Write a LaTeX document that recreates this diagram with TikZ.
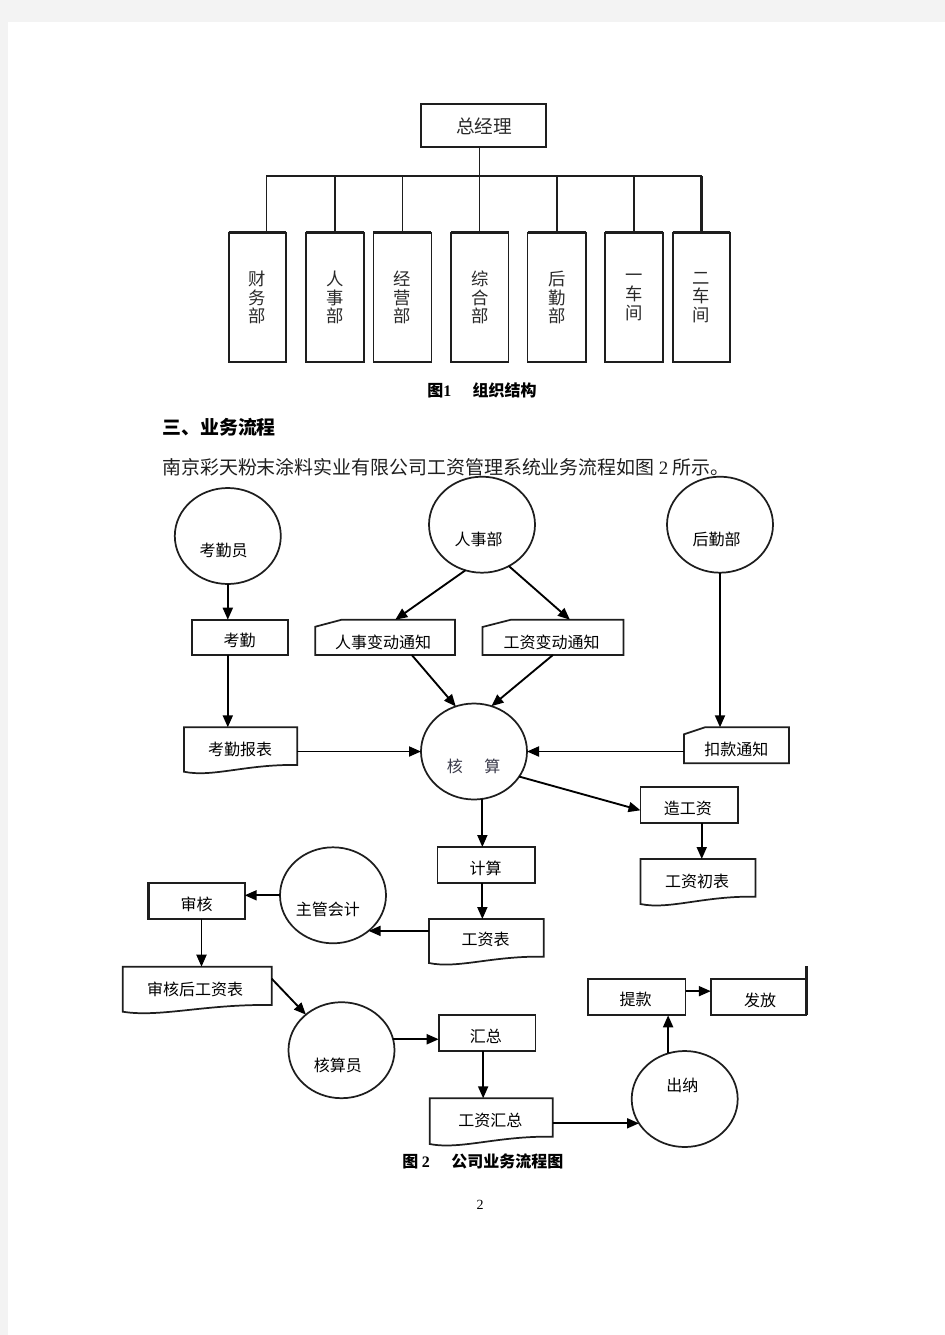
\documentclass[tikz,border=0pt]{standalone}
\usepackage{fontspec}
\newfontfamily\cjk{Noto Sans CJK SC}
\newfontfamily\lser{Liberation Serif}
\usetikzlibrary{arrows.meta,shapes.geometric,calc}
\definecolor{pagegray}{HTML}{F3F3F3}
\definecolor{ink}{HTML}{1E1E1E}
\definecolor{orgtext}{HTML}{2A2A2A}
\definecolor{hstext}{HTML}{3A3A4A}
\newcommand\mkbox[6][]{\node[#1,inner sep=0pt,outer sep=0pt,minimum width={(#5-#3)*0.75pt},minimum height={(#6-#4)*0.75pt}] (#2) at ({(#3+#5)/2},{(#4+#6)/2}) {};}
\newcommand\mkdoc[6]{\mkbox{#1}{#2}{#3}{#4}{#5}
 \draw[boxline] (#2,{#5+#6}) -- (#2,#3) -- (#4,#3) -- (#4,#5) .. controls ({#4-0.45*(#4-#2)},{#5-1}) and ({#2+0.25*(#4-#2)},{#5+#6+6}) .. (#2,{#5+#6}) -- cycle;}
\newcommand\mkcard[7]{\mkbox{#1}{#2}{#3}{#4}{#5}
 \draw[boxline] (#2,{#3+#7}) -- ({#2+#6},#3) -- (#4,#3) -- (#4,#5) -- (#2,#5) -- cycle;}
\begin{document}
\begin{tikzpicture}[x=0.75pt,y=-0.75pt,font=\cjk,
  boxline/.style={draw=ink,line width=1.3pt},
  orgline/.style={draw=ink,line width=1.15pt},
  arr/.style={draw=black,line width=1.4pt,-{Triangle[length=9pt,width=7.5pt]}},
  ell/.style={ellipse,draw=ink,line width=1.3pt,minimum width=106*0.75pt,minimum height=96*0.75pt,inner sep=0pt,outer sep=0pt},
  ftxt/.style={font=\cjk\fontsize{12pt}{14pt}\selectfont,text=black,inner sep=0pt},
  otxt/.style={font=\cjk\fontsize{13pt}{14.1pt}\selectfont,text=orgtext,inner sep=0pt,align=center},
  captxt/.style={font=\cjk\bfseries\fontsize{12pt}{14pt}\selectfont,text=black,inner sep=0pt,anchor=west}]
\useasboundingbox (0,0) rectangle (945,1335);
\fill[pagegray] (0,0) rectangle (945,1335);
\fill[white] (8,22) rectangle (945,1335);

% ---------- Figure 1: org chart ----------
\mkbox[boxline]{zjl}{421}{104}{546}{147}
\draw[draw=ink,line width=1.8pt] (zjl.north east) -- (zjl.south east) -- (zjl.south west);
\node[otxt,font=\cjk\fontsize{14pt}{16pt}\selectfont] (zjl-t) at (484,126) {总经理};

\mkbox[boxline]{cwb}{228.7}{232.7}{286.3}{361.7}
\mkbox[boxline]{orsb}{305.8}{232.7}{363.8}{361.7}
\mkbox[boxline]{jyb}{373.4}{232.7}{431.4}{361.7}
\mkbox[boxline]{zhb}{450.9}{232.7}{508.5}{361.7}
\mkbox[boxline]{ohqb}{527.6}{232.7}{586}{361.7}
\mkbox[boxline]{ycj}{605}{232.7}{662.7}{361.7}
\mkbox[boxline]{ecj}{672.7}{232.7}{730.3}{361.7}
\foreach \n in {cwb,orsb,jyb,zhb,ohqb,ycj,ecj}{\draw[draw=ink,line width=2.3pt] (\n.north west) -- (\n.north east);}

\node[otxt] (cwb-t) at (cwb |- 0,297.5) {财\\务\\部};
\node[otxt] (orsb-t) at (orsb |- 0,297.5) {人\\事\\部};
\node[otxt] (jyb-t) at (jyb |- 0,297.5) {经\\营\\部};
\node[otxt] (zhb-t) at (zhb |- 0,297.5) {综\\合\\部};
\node[otxt] (ohqb-t) at (ohqb |- 0,297.5) {后\\勤\\部};
\node[otxt] (ycj-t) at (ycj |- 0,297.5) {一\\车\\间};
\node[otxt] (ecj-t) at (ecj |- 0,297.5) {二\\车\\间};

\coordinate (bar) at (0,176);
\draw[orgline] (zhb.north) -- (zhb.north |- zjl.south);
\draw[orgline] ($(cwb.north)+(9,0)$) coordinate (cws) -- (cws |- bar) -- (ecj.north |- bar);
\foreach \n in {orsb,jyb,ohqb,ycj}{\draw[orgline] (\n.north) -- (\n.north |- bar);}
\draw[draw=ink,line width=2pt] (ecj.north) -- (ecj.north |- bar);

\node[captxt] (cap1) at (427,390.5) {图{\lser\bfseries 1}\hspace{16pt}组织结构};

% ---------- text ----------
\node[anchor=west,inner sep=0pt,font=\cjk\bfseries\fontsize{14.2pt}{16pt}\selectfont] (sec) at (162,427.5) {三、业务流程};
\node[anchor=west,inner sep=0pt,text=black!88,font=\cjk\fontsize{14.2pt}{16pt}\selectfont] (intro) at (162,467.5) {南京彩天粉末涂料实业有限公司工资管理系统业务流程如图 {\lser 2} 所示。};

% ---------- Figure 2: flow ----------
\node[ell] (kqy) at (227.8,536) {};
\node[ell] (rsb) at (482,524.7) {};
\node[ell] (hqb) at (720,524.7) {};
\node[ell] (hs) at (474,751.5) {};
\node[ell] (zgkj) at (333,895.3) {};
\node[ell] (hsy) at (341.5,1050.2) {};
\node[ell] (cn) at (684.7,1099) {};

\mkbox[boxline]{kq}{192}{619.7}{288.3}{655}
\mkcard{rsbd}{315.3}{619.7}{455}{655}{26.4}{7}
\mkcard{gzbd}{482.4}{619.7}{623.5}{655}{28.6}{7.3}
\mkdoc{kqbb}{184}{727.3}{297.3}{765}{6.7}
\mkcard{kkd}{684}{727.3}{789}{763.3}{21}{7}
\mkbox[boxline]{zgz}{640.5}{787.3}{738}{823.3}
\mkdoc{gzcb}{640.5}{859}{755.5}{896.7}{7.3}
\mkbox[boxline]{js}{437.5}{847}{535.3}{883.3}
\mkdoc{gzb}{429}{919}{543.7}{956.7}{6.3}
\mkbox[boxline]{sh}{148.3}{883.3}{244.7}{918.7}
\draw[draw=ink,line width=2.2pt] (sh.north west) -- (sh.south west);
\mkdoc{shgzb}{122.7}{966.7}{271.7}{1005}{6.7}
\mkbox[boxline]{hz}{438.7}{1015.3}{535.6}{1051}
\mkdoc{gzhz}{429.7}{1098.3}{552.8}{1136.7}{7.3}
\mkbox[boxline]{tk}{588}{979}{685.5}{1015.3}
\mkbox[boxline]{ff}{710.8}{979}{806.5}{1015.3}
\draw[draw=ink,line width=1.8pt] (ff.south east) -- ($(ff.north east)+(0,-13)$);

\node[ftxt] (kqy-t) at (223.7,550) {考勤员};
\node[ftxt] (rsb-t) at (478.5,539) {人事部};
\node[ftxt] (hqb-t) at (716.7,539) {后勤部};
\node[ftxt,text=hstext] (hs-t) at (473.6,766) {核\hspace{16pt}算};
\node[ftxt] (zgkj-t) at (327.8,909.5) {主管会计};
\node[ftxt] (hsy-t) at (337.8,1065) {核算员};
\node[ftxt] (cn-t) at (682.3,1085) {出纳};
\node[ftxt] (kq-t) at (239.7,640.5) {考勤};
\node[ftxt] (rsbd-t) at (383,642) {人事变动通知};
\node[ftxt] (gzbd-t) at (551.6,642) {工资变动通知};
\node[ftxt] (kqbb-t) at (240,749) {考勤报表};
\node[ftxt] (kkd-t) at (736.4,749.7) {扣款通知};
\node[ftxt] (zgz-t) at (687.8,808.3) {造工资};
\node[ftxt] (gzcb-t) at (697,881.3) {工资初表};
\node[ftxt] (js-t) at (485.5,868) {计算};
\node[ftxt] (gzb-t) at (485.7,939.7) {工资表};
\node[ftxt] (sh-t) at (196.5,904) {审核};
\node[ftxt] (shgzb-t) at (195,989) {审核后工资表};
\node[ftxt] (hz-t) at (485.8,1036.5) {汇总};
\node[ftxt] (gzhz-t) at (490.4,1120.4) {工资汇总};
\node[ftxt] (tk-t) at (635.6,999.8) {提款};
\node[ftxt] (ff-t) at (760,1000) {发放};

\draw[arr] (kqy.south) -- (kqy.south |- kq.north);
\draw[arr] (kqy.south |- kq.south) -- (kqy.south |- kqbb.north);
\draw[arr] (rsb.250) -- ($(rsbd.north west)+(80,0)$);
\draw[arr] (rsb.303) -- ($(gzbd.north west)+(87.5,0)$);
\draw[arr] ($(rsbd.south west)+(96.5,0)$) -- (hs.112);
\draw[arr] ($(gzbd.south west)+(70.5,0)$) -- (hs.69);
\draw[arr] (hqb.south) -- (hqb.south |- kkd.north);
\draw[arr] (kkd.west |- hs.east) -- (hs.east);
\draw[arr] (kqbb.east |- hs.west) -- (hs.west);
\draw[arr] (hs.331) -- ($(zgz.west)+(0,5)$);
\draw[arr] ($(zgz.south)+(12.5,0)$) coordinate (a11) -- (a11 |- gzcb.north);
\draw[arr] (hs.280) -- (hs.280 |- js.north);
\draw[arr] (hs.280 |- js.south) -- (hs.280 |- gzb.north);
\draw[arr] (gzb.west |- zgkj.315) -- (zgkj.315);
\draw[arr] (zgkj.west) -- (zgkj.west -| sh.east);
\draw[arr] ($(sh.south)+(5,0)$) coordinate (a16) -- (a16 |- shgzb.north);
\draw[arr] ($(shgzb.north east)+(0,12)$) -- (hsy.135);
\draw[arr] (hsy.12) -- (hsy.12 -| hz.west);
\draw[arr] ($(hz.south)+(-4,0)$) coordinate (a19) -- (a19 |- gzhz.north);
\draw[arr] (gzhz.east |- cn.208) -- (cn.208);
\draw[arr] (cn.110) -- (cn.110 |- tk.south);
\draw[arr] ($(tk.east)+(0,-6)$) coordinate (a22) -- (a22 -| ff.west);

\node[captxt] (cap2) at (402,1161.5) {图 {\lser\bfseries 2}\hspace{16pt}公司业务流程图};
\node[inner sep=0pt,font=\lser\fontsize{10.5pt}{12pt}\selectfont] (pgno) at (480,1205) {2};
\end{tikzpicture}
\end{document}
